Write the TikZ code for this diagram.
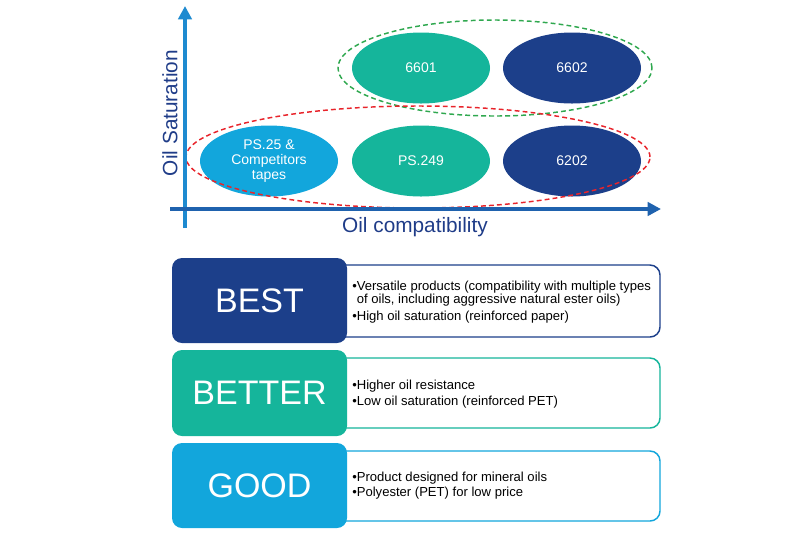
\documentclass[tikz,border=0pt]{standalone}
\usepackage{fontspec}
\setmainfont{Liberation Sans}
\usetikzlibrary{arrows.meta,shapes.geometric}
\definecolor{navy}{HTML}{1C3F8A}
\definecolor{teal}{HTML}{15B59B}
\definecolor{lblue}{HTML}{12A6DC}
\definecolor{axisv}{HTML}{1E8AD0}
\definecolor{axish}{HTML}{1F62AE}
\definecolor{axlbl}{HTML}{1F3C88}
\definecolor{gdash}{HTML}{2FA84F}
\definecolor{rdash}{HTML}{E8242B}
\tikzset{
  prod/.style={ellipse, minimum width=138pt*0.75, minimum height=71pt*0.75, text=white, align=center, font=\fontsize{10.5}{12}\selectfont, inner sep=0pt},
  tierbox/.style={rounded corners=7.5pt, text=white, font=\fontsize{25.5}{28}\selectfont},
  descbox/.style={rounded corners=7.5pt, fill=white, line width=1.1pt},
  desctext/.style={anchor=west, align=left, text=black, inner sep=0pt},
  axislbl/.style={text=axlbl, font=\fontsize{15.6}{18}\selectfont, inner sep=0pt},
  grpline/.style={ellipse, line width=1.1pt, dash pattern=on 3.6pt off 2.4pt, inner sep=0pt},
}
\begin{document}
\begin{tikzpicture}[x=0.75pt,y=-0.75pt]
\useasboundingbox (0,0) rectangle (800,537);
% dashed groups
\node[grpline, draw=gdash, minimum width=314*0.75pt, minimum height=96*0.75pt] (grp1) at (495,68) {};
% product ellipses
\node[prod, fill=teal] (e6601) at (421,68) {6601};
\node[prod, fill=navy] (e6602) at (572,68) {6602};
\node[prod, fill=lblue] (eps25) at (269,161) {PS.25 \&\\[-1pt]Competitors\\[-1pt]tapes};
\node[prod, fill=teal] (eps249) at (421,161) {PS.249};
\node[prod, fill=navy] (e6202) at (572,161) {6202};
\node[grpline, draw=rdash, minimum width=464*0.75pt, minimum height=102*0.75pt] (grp2) at (418,157) {};
% axes
\coordinate (vb) at (185,228);
\coordinate (vt) at (185,6);
\coordinate (hl) at (170,209);
\coordinate (hr) at (661,209);
\draw[axisv, line width=2.6pt, -{Triangle[length=10pt,width=10pt]}] (vb) -- (vt);
\draw[axish, line width=2.6pt, -{Triangle[length=10pt,width=10pt]}] (hl) -- (hr);
\node[axislbl, rotate=90] (ylbl) at (170,113) {Oil Saturation};
\node[axislbl] (xlbl) at (415,227) {Oil compatibility};
% BEST
\draw[descbox, draw=navy] (330,265) rectangle (660,337);
\node[tierbox, fill=navy, minimum width=175*0.75pt, minimum height=85*0.75pt] (best) at (259.5,300.5) {BEST};
\node[desctext, font=\fontsize{9.8}{9.8}\selectfont] (bestt) at (352,302) {•Versatile products (compatibility with multiple types\\\hphantom{•}of oils, including aggressive natural ester oils)\\[2.6pt]•High oil saturation (reinforced paper)};
% BETTER
\draw[descbox, draw=teal] (330,358) rectangle (660,428);
\node[tierbox, fill=teal, minimum width=175*0.75pt, minimum height=86*0.75pt] (better) at (259.5,393) {BETTER};
\node[desctext, font=\fontsize{9.8}{12}\selectfont] (bettert) at (352,394) {•Higher oil resistance\\•Low oil saturation (reinforced PET)};
% GOOD
\draw[descbox, draw=lblue] (330,451) rectangle (660,521);
\node[tierbox, fill=lblue, minimum width=175*0.75pt, minimum height=85*0.75pt] (good) at (259.5,485.5) {GOOD};
\node[desctext, font=\fontsize{9.8}{11.5}\selectfont] (goodt) at (352,485.5) {•Product designed for mineral oils\\•Polyester (PET) for low price};
\end{tikzpicture}
\end{document}
